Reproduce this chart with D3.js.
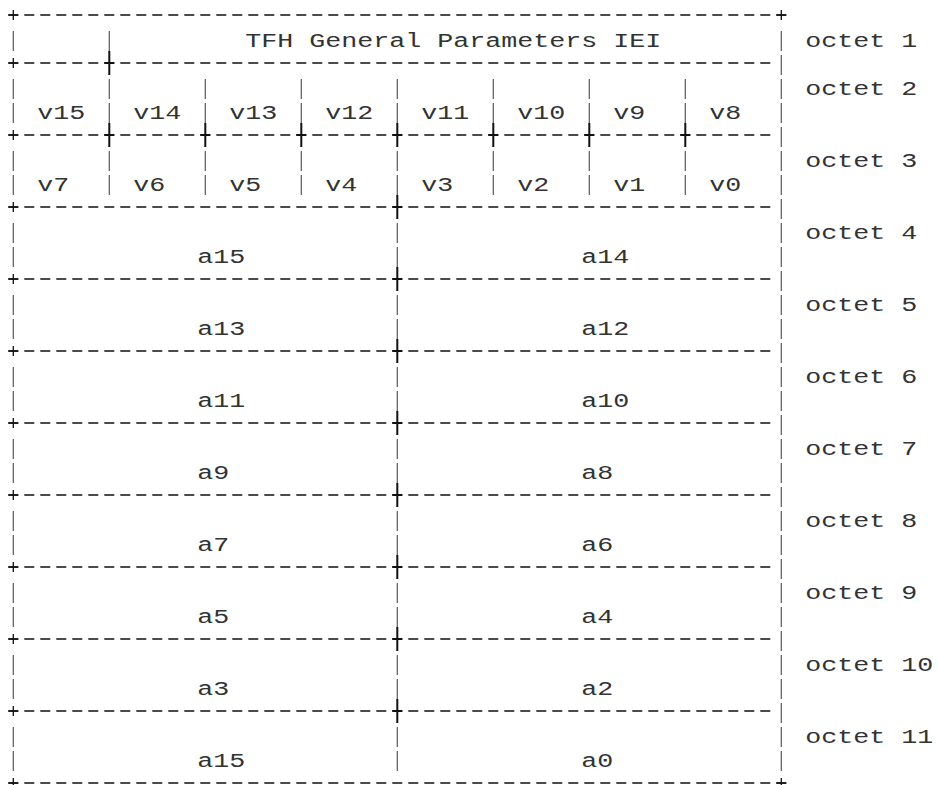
<!DOCTYPE html>
<html>
<head>
<meta charset="utf-8">
<script src="https://cdn.jsdelivr.net/npm/d3@7"></script>
<style>
  body { margin: 0; background: #fff; }
  text { font-family: "Liberation Mono", "DejaVu Sans Mono", monospace; font-size: 20px; fill: #333; }
</style>
</head>
<body>
<svg id="chart"></svg>
<script>
// octet layout of the IE
const octetLabels = ["octet 1", "octet 2", "octet 3", "octet 4", "octet 5", "octet 6",
                     "octet 7", "octet 8", "octet 9", "octet 10", "octet 11"];
const headerLabel = "TFH General Parameters IEI";
const bitsHigh = ["v15", "v14", "v13", "v12", "v11", "v10", "v9", "v8"];
const bitsLow = ["v7", "v6", "v5", "v4", "v3", "v2", "v1", "v0"];
const pairLeft = ["a15", "a13", "a11", "a9", "a7", "a5", "a3", "a15"];
const pairRight = ["a14", "a12", "a10", "a8", "a6", "a4", "a2", "a0"];

const width = 938;
const height = 785;
const charW = 16;

const svg = d3.select("#chart")
    .attr("width", width)
    .attr("height", height);

// rows: cells given in bit units (0..8)
const rows = [];
rows.push({ kind: "head", lines: 1, cells: [{ from: 0, to: 1, label: "" }, { from: 1, to: 8, label: headerLabel }] });
rows.push({ kind: "bits", lines: 2, cells: bitsHigh.map((d, i) => ({ from: i, to: i + 1, label: d })) });
rows.push({ kind: "bits", lines: 2, cells: bitsLow.map((d, i) => ({ from: i, to: i + 1, label: d })) });
pairLeft.forEach((d, i) => {
    rows.push({ kind: "pair", lines: 2, cells: [{ from: 0, to: 4, label: d }, { from: 4, to: 8, label: pairRight[i] }] });
});

const bitToCol = d3.scaleLinear().domain([0, 8]).range([0, 48]);
const col = d3.scaleLinear().domain([0, 48]).range([13.3, 781.3]);
const totalLines = d3.sum(rows, r => r.lines + 1);
const line = d3.scaleLinear().domain([0, totalLines]).range([15, 783]);

// assign text lines to rows
let cursor = 0;
rows.forEach((r, i) => {
    r.top = cursor;
    r.bottom = cursor + r.lines + 1;
    r.octet = octetLabels[i];
    r.dividers = r.cells.slice(1).map(c => bitToCol(c.from));
    cursor = r.bottom;
});

// border lines and their crossings
const borders = [];
rows.forEach((r, i) => {
    const above = i > 0 ? rows[i - 1].dividers : [];
    borders.push({ line: r.top, cross: r.dividers.filter(d => above.includes(d)), edge: i === 0 });
});
borders.push({ line: rows[rows.length - 1].bottom, cross: [], edge: true });

const g = svg.append("g");

// dashed horizontals
g.selectAll("line.dash")
    .data(borders)
    .enter()
    .append("line")
    .attr("class", "dash")
    .attr("x1", col(0) - 5)
    .attr("x2", d => (d.edge ? col(48) : col(47)) + 5)
    .attr("y1", d => line(d.line))
    .attr("y2", d => line(d.line))
    .attr("stroke", "#111")
    .attr("stroke-width", 1.4)
    .attr("stroke-dasharray", "10 6");

// vertical bars, one per text line
const bars = [];
rows.forEach(r => {
    const cols = [0, ...r.dividers, 48];
    for (let l = r.top + 1; l < r.bottom; l++) {
        cols.forEach(c => bars.push({ line: l, col: c }));
    }
});
borders.filter(b => !b.edge).forEach(b => bars.push({ line: b.line, col: 48 }));

g.selectAll("line.bar")
    .data(bars)
    .enter()
    .append("line")
    .attr("class", "bar")
    .attr("x1", d => col(d.col))
    .attr("x2", d => col(d.col))
    .attr("y1", d => line(d.line) - 8)
    .attr("y2", d => line(d.line) + 12)
    .attr("stroke", "#555")
    .attr("stroke-width", 1.2);

// plus signs
const pluses = [];
borders.forEach(b => {
    pluses.push({ line: b.line, col: 0, big: false });
    if (b.edge) pluses.push({ line: b.line, col: 48, big: false });
    b.cross.forEach(c => pluses.push({ line: b.line, col: c, big: true }));
});

const plus = g.selectAll("g.plus")
    .data(pluses)
    .enter()
    .append("g")
    .attr("class", "plus")
    .attr("transform", d => `translate(${col(d.col)}, ${line(d.line)})`);

plus.append("line")
    .attr("x1", -5).attr("x2", 5)
    .attr("stroke", "#111")
    .attr("stroke-width", d => d.big ? 2 : 1.4);

plus.append("line")
    .attr("y1", d => d.big ? -12 : -5)
    .attr("y2", d => d.big ? 12 : 5)
    .attr("stroke", "#111")
    .attr("stroke-width", d => d.big ? 2 : 1.3);

// cell labels
function startCol(r, c) {
    const a = bitToCol(c.from), b = bitToCol(c.to);
    const mid = (a + b) / 2;
    if (r.kind === "head") return mid - c.label.length / 2 + 1;
    if (r.kind === "bits") return a + 2;
    return mid;
}

const labels = [];
rows.forEach(r => {
    r.cells.filter(c => c.label).forEach(c => {
        labels.push({ text: c.label, col: startCol(r, c), line: r.bottom - 1 });
    });
    labels.push({ text: r.octet, col: 50, line: r.top + 1 });
});

svg.selectAll("text")
    .data(labels)
    .enter()
    .append("text")
    .attr("x", d => col(d.col) - charW / 2)
    .attr("y", d => line(d.line) + 8)
    .attr("textLength", d => d.text.length * charW)
    .attr("lengthAdjust", "spacingAndGlyphs")
    .attr("xml:space", "preserve")
    .text(d => d.text);
</script>
</body>
</html>
